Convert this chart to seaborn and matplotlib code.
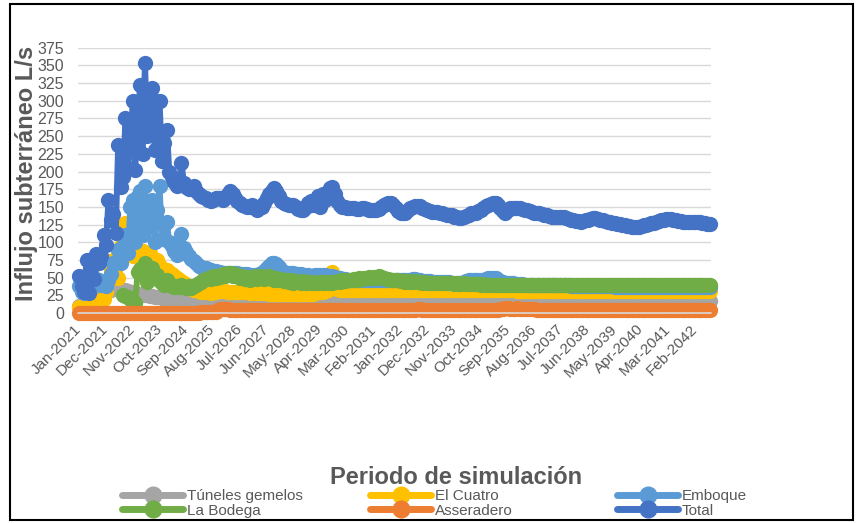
import numpy as np
import pandas as pd
import matplotlib
matplotlib.use("Agg")
import matplotlib.pyplot as plt
from matplotlib.lines import Line2D
from matplotlib.patches import Rectangle
import seaborn as sns

# Monthly groundwater inflow per tunnel section, Jan-2021 .. Aug-2042 (L/s)
months = pd.date_range("2021-01-01", periods=260, freq="MS")
month_labels = list(months.strftime("%b-%Y"))
tick_step = 11

tuneles_gemelos = [
    10, 11, 12, 14, 16, 18, 20, 22, 24, 26, 28, 30, 32, 33, 34, 35, 35, 34, 33, 32,
    31, 30, 29, 28, 27, 27, 26, 25, 25, 24, 24, 23, 22, 22, 21, 21, 20, 20, 19, 19,
    18, 17, 17, 16, 16, 15, 15, 14, 14, 14, 13, 13, 13, 13, 13, 13, 13, 13, 13, 13,
    13, 13, 13, 13, 13, 13, 13, 13, 13, 13, 13, 13, 13, 13, 13, 13, 13, 13, 13, 13,
    13, 13, 13, 13, 13, 13, 13, 13, 13, 13, 13, 13, 13, 13, 13, 13, 13, 13, 13, 13,
    13, 14, 16, 17, 18, 17, 17, 16, 16, 16, 16, 16, 16, 16, 16, 16, 16, 16, 16, 16,
    16, 16, 16, 16, 16, 16, 16, 16, 16, 16, 16, 16, 16, 16, 16, 16, 16, 16, 16, 16,
    16, 16, 16, 16, 16, 16, 16, 16, 16, 16, 16, 16, 16, 16, 16, 16, 16, 16, 16, 16,
    16, 16, 16, 16, 16, 16, 16, 16, 16, 16, 16, 16, 16, 16, 16, 16, 16, 16, 16, 16,
    16, 16, 16, 16, 16, 16, 16, 16, 16, 16, 16, 16, 16, 16, 16, 16, 16, 16, 16, 16,
    16, 16, 16, 16, 16, 16, 16, 16, 16, 16, 16, 16, 16, 16, 16, 16, 16, 16, 16, 16,
    17, 17, 17, 17, 17, 17, 17, 17, 17, 17, 17, 17, 17, 17, 17, 17, 17, 17, 17, 17,
    17, 17, 17, 17, 17, 17, 17, 17, 17, 17, 17, 17, 17, 17, 17, 17, 17, 17, 17, 17,
]

el_cuatro = [
    8, 8, 10, 12, 13, 14, 15, 16, 17, 18, 20, 30, 45, 60, 75, 65, 50, 95, 105, 127,
    95, 85, 80, 90, 87, 82, 88, 84, 80, 85, 78, 70, 75, 66, 62, 60, 61, 58, 55, 52,
    50, 47, 45, 42, 40, 37, 35, 33, 32, 31, 30, 30, 29, 29, 28, 29, 30, 31, 32, 31,
    31, 30, 30, 30, 29, 29, 29, 29, 29, 29, 28, 28, 28, 28, 28, 28, 28, 28, 27, 27,
    27, 27, 27, 27, 27, 27, 27, 27, 27, 27, 27, 27, 27, 27, 27, 27, 27, 28, 29, 30,
    30, 31, 33, 38, 58, 38, 34, 33, 33, 33, 32, 32, 32, 32, 32, 32, 32, 32, 32, 32,
    32, 32, 32, 32, 32, 32, 32, 32, 33, 32, 32, 32, 32, 32, 32, 32, 32, 32, 32, 32,
    32, 32, 32, 32, 32, 32, 32, 32, 32, 32, 32, 32, 32, 32, 32, 32, 32, 32, 32, 32,
    32, 32, 32, 32, 32, 32, 32, 32, 32, 32, 32, 32, 32, 32, 32, 32, 32, 32, 32, 32,
    31, 31, 31, 31, 31, 31, 31, 31, 31, 31, 31, 31, 31, 31, 31, 31, 31, 31, 31, 31,
    31, 31, 31, 31, 31, 31, 31, 31, 31, 31, 31, 31, 31, 31, 31, 31, 31, 31, 31, 31,
    31, 31, 31, 31, 31, 31, 31, 31, 31, 31, 31, 31, 31, 31, 31, 31, 31, 31, 31, 31,
    31, 31, 31, 31, 31, 31, 31, 31, 31, 31, 31, 31, 31, 31, 31, 31, 31, 31, 31, 31,
]

emboque = [
    38, 30, 28, 32, 40, 45, 42, 48, 46, 40, 42, 38, 47, 55, 70, 72, 89, 70, 95, 110,
    85, 150, 160, 100, 165, 172, 110, 179, 120, 150, 160, 100, 145, 179, 105, 125, 128, 100, 95, 88,
    82, 90, 112, 92, 86, 80, 76, 73, 70, 67, 65, 64, 63, 62, 61, 60, 59, 58, 58, 57,
    57, 57, 56, 56, 56, 56, 55, 55, 55, 55, 54, 54, 54, 54, 55, 56, 59, 63, 67, 70,
    71, 69, 65, 61, 58, 57, 56, 56, 56, 55, 55, 55, 54, 54, 54, 53, 53, 54, 54, 54,
    54, 54, 53, 53, 52, 51, 50, 49, 48, 48, 47, 47, 46, 46, 46, 46, 46, 46, 46, 46,
    46, 46, 46, 46, 46, 46, 46, 46, 46, 46, 46, 46, 46, 46, 46, 46, 47, 48, 48, 47,
    46, 45, 45, 45, 45, 44, 44, 44, 44, 44, 44, 44, 44, 43, 43, 43, 43, 43, 44, 45,
    46, 46, 46, 46, 46, 46, 47, 48, 49, 50, 50, 49, 47, 45, 44, 43, 42, 42, 42, 41,
    41, 41, 41, 40, 40, 40, 40, 40, 40, 39, 39, 39, 39, 39, 39, 39, 39, 39, 39, 39,
    39, 39, 38, 38, 38, 38, 38, 38, 38, 38, 38, 38, 38, 38, 38, 38, 38, 38, 38, 38,
    37, 37, 37, 37, 37, 37, 37, 37, 37, 37, 37, 37, 37, 37, 37, 37, 37, 37, 37, 37,
    37, 37, 37, 37, 37, 37, 37, 37, 37, 37, 37, 37, 37, 37, 37, 37, 37, 37, 37, 37,
]

la_bodega = [
    None, None, None, None, None, None, None, None, None, None,
    None, None, None, None, None, None, None, None, 26, 24,
    22, 20, 17, 14, 58, 62, 55, 70, 44, 60, 64, 50, 54, 45, 42, 40, 47, 42, 38, 37,
    38, 37, 40, 37, 36, 38, 36, 38, 40, 42, 44, 46, 48, 50, 48, 52, 50, 53, 51, 55,
    53, 56, 57, 52, 55, 53, 50, 52, 48, 51, 47, 50, 52, 48, 50, 53, 48, 50, 52, 48,
    47, 49, 46, 48, 45, 47, 44, 46, 43, 45, 44, 42, 45, 43, 44, 42, 44, 43, 42, 44,
    43, 44, 42, 44, 43, 44, 45, 44, 46, 45, 46, 47, 46, 48, 47, 49, 48, 50, 49, 51,
    50, 51, 50, 52, 51, 49, 48, 48, 47, 46, 47, 46, 45, 45, 44, 45, 44, 44, 45, 44,
    44, 43, 44, 43, 43, 43, 42, 43, 42, 42, 43, 42, 42, 42, 41, 42, 41, 41, 42, 41,
    41, 41, 41, 41, 41, 40, 41, 40, 40, 40, 40, 40, 40, 40, 40, 40, 40, 40, 40, 40,
    40, 40, 40, 40, 40, 40, 40, 40, 40, 40, 40, 40, 40, 40, 40, 40, 40, 40, 40, 40,
    40, 40, 40, 40, 40, 40, 40, 40, 39, 39, 39, 39, 39, 39, 39, 39, 39, 39, 39, 39,
    39, 39, 39, 39, 39, 39, 39, 39, 39, 39, 39, 39, 39, 39, 39, 39, 39, 39, 39, 39,
    39, 39, 39, 39, 39, 39, 39, 39, 39, 39, 39, 39, 39, 39, 39, 39, 39, 39, 39, 39,
]

asseradero = [
    0, 0, 0, 0, 0, 0, 0, 0, 0, 0, 0, 0, 0, 0, 0, 0, 0, 0, 0, 0,
    0, 0, 0, 0, 0, 0, 0, 0, 0, 0, 0, 0, 0, 0, 0, 0, 0, 0, 0, 0,
    0, 0, 0, 0, 0, 0, 0, 0, 0, 0, 1, 1, 1, 1, 1, 1, 1, 4, 5, 6,
    6, 5, 4, 4, 4, 4, 4, 4, 4, 4, 4, 4, 4, 4, 4, 4, 4, 4, 4, 4,
    4, 4, 4, 4, 4, 4, 4, 4, 4, 4, 4, 4, 4, 4, 4, 4, 4, 4, 4, 4,
    4, 4, 4, 4, 4, 4, 4, 4, 4, 4, 4, 4, 4, 4, 4, 4, 4, 4, 4, 4,
    4, 4, 4, 4, 4, 4, 4, 4, 4, 4, 4, 4, 4, 4, 4, 4, 4, 4, 4, 5,
    5, 4, 4, 4, 4, 4, 4, 4, 4, 4, 4, 4, 4, 4, 4, 4, 4, 4, 4, 4,
    4, 4, 4, 4, 4, 4, 4, 4, 4, 4, 4, 4, 4, 5, 6, 7, 7, 6, 6, 6,
    7, 6, 6, 6, 5, 5, 6, 5, 4, 4, 4, 4, 4, 4, 4, 4, 4, 4, 4, 4,
    4, 4, 4, 4, 4, 4, 4, 4, 4, 4, 4, 4, 4, 4, 4, 4, 4, 4, 4, 4,
    4, 4, 4, 4, 4, 4, 4, 4, 4, 4, 4, 4, 4, 4, 4, 4, 4, 4, 4, 4,
    4, 4, 4, 4, 4, 4, 4, 4, 4, 4, 4, 4, 4, 4, 4, 4, 4, 4, 4, 4,
]

total = [
    52, 38, 30, 75, 28, 62, 48, 84, 70, 80, 110, 96, 160, 132, 140, 113, 238, 178, 192, 276,
    205, 240, 299, 202, 270, 322, 225, 354, 250, 290, 318, 230, 300, 299, 215, 240, 259, 200, 192, 185,
    180, 186, 212, 184, 178, 175, 177, 179, 172, 168, 166, 164, 162, 160, 158, 160, 162, 163, 163, 160,
    162, 168, 172, 168, 162, 158, 155, 153, 151, 150, 150, 152, 149, 146, 148, 150, 155, 162, 168, 172,
    176, 172, 165, 158, 156, 154, 153, 152, 153, 150, 147, 145, 146, 150, 155, 158, 152, 160, 165, 150,
    168, 160, 170, 177, 178, 168, 158, 152, 150, 150, 149, 148, 148, 148, 147, 147, 148, 148, 147, 146,
    146, 146, 146, 147, 150, 152, 154, 155, 155, 152, 148, 144, 141, 141, 142, 145, 148, 150, 151, 151,
    151, 149, 147, 145, 144, 143, 143, 143, 142, 141, 140, 139, 139, 138, 136, 135, 134, 134, 135, 137,
    139, 141, 141, 142, 144, 146, 148, 151, 153, 154, 155, 155, 152, 148, 144, 142, 146, 148, 148, 148,
    148, 148, 147, 146, 145, 144, 143, 142, 141, 141, 140, 139, 138, 137, 136, 136, 135, 135, 135, 135,
    134, 133, 132, 131, 130, 130, 129, 130, 131, 132, 133, 134, 134, 133, 132, 131, 130, 129, 128, 127,
    127, 126, 126, 125, 124, 123, 123, 122, 122, 122, 122, 123, 124, 125, 126, 127, 127, 128, 130, 131,
    132, 133, 133, 133, 132, 131, 130, 130, 129, 129, 129, 128, 128, 128, 128, 128, 127, 127, 126, 126,
]

series_names = ["Túneles gemelos", "El Cuatro", "Emboque", "La Bodega", "Asseradero", "Total"]
series_values = [tuneles_gemelos, el_cuatro, emboque, la_bodega, asseradero, total]
series_colors = ["#A5A5A5", "#FFC000", "#5B9BD5", "#70AD47", "#ED7D31", "#4472C4"]
y_ticks = list(range(0, 376, 25))

frames = []
for name, vals in zip(series_names, series_values):
    frames.append(pd.DataFrame({
        "mes": np.arange(len(vals)),
        "caudal": pd.to_numeric(pd.Series(vals), errors="coerce"),
        "serie": name,
    }))
df = pd.concat(frames, ignore_index=True)

sns.set_style("white")
plt.rcParams["font.family"] = ["Liberation Sans", "DejaVu Sans"]
text_gray = "#595959"

fig = plt.figure(figsize=(8.57, 5.23), dpi=100)
ax = fig.add_axes([78 / 857, 1 - 313 / 523, 633 / 857, 265.3 / 523])

sns.lineplot(
    data=df, x="mes", y="caudal", hue="serie", hue_order=series_names,
    palette=series_colors, marker="o", markersize=11, markeredgewidth=0,
    linewidth=4.3, estimator=None, sort=False, legend=False, ax=ax,
)
for ln in ax.lines:
    ln.set_clip_on(False)

ax.axhline(0, color="#D9D9D9", lw=1.2, zorder=10, clip_on=False)

ax.set_xlim(-0.5, len(total) - 0.5)
ax.set_ylim(0, 375)
ax.set_yticks(y_ticks)
ax.yaxis.grid(True, color="#D9D9D9", lw=1)
ax.set_axisbelow(True)
for s in ax.spines.values():
    s.set_visible(False)

tick_pos = list(range(0, len(total), tick_step))
ax.set_xticks(tick_pos)
ax.set_xticklabels([month_labels[i] for i in tick_pos], rotation=45,
                   ha="right", va="center", rotation_mode="anchor")
ax.tick_params(axis="x", length=0, labelsize=11, labelcolor=text_gray, pad=10)
ax.tick_params(axis="y", length=0, labelsize=11.5, labelcolor=text_gray, pad=10)
ax.set_xlabel("")
ax.set_ylabel("")

fig.text(27 / 857, 1 - 173 / 523, "Influjo subterráneo L/s", rotation=90,
         ha="center", va="center", fontsize=17, fontweight="bold", color=text_gray)
fig.text(456 / 857, 1 - 478 / 523, "Periodo de simulación",
         ha="center", va="center", fontsize=17, fontweight="bold", color=text_gray)

# legend laid out like Excel: three fixed columns, two rows
handles = {n: Line2D([], [], color=c, lw=5, marker="o", markersize=12)
           for n, c in zip(series_names, series_colors)}
columns = [["Túneles gemelos", "La Bodega"], ["El Cuatro", "Asseradero"], ["Emboque", "Total"]]
col_x = [122, 370, 617]
for names, x0 in zip(columns, col_x):
    leg = fig.legend([handles[n] for n in names], names, loc="upper left",
                     bbox_to_anchor=(x0 / 857, 1 - 489 / 523), frameon=False,
                     fontsize=11, handlelength=4.0, handletextpad=0.25,
                     labelspacing=0.05, borderpad=0, borderaxespad=0)
    for t in leg.get_texts():
        t.set_color(text_gray)

# chart-area frame
fig.patches.append(Rectangle((10 / 857, 3 / 523), 843 / 857, 516 / 523,
                             transform=fig.transFigure, fill=False,
                             edgecolor="black", lw=1.5, zorder=21))

fig.savefig("out.png", dpi=100)
